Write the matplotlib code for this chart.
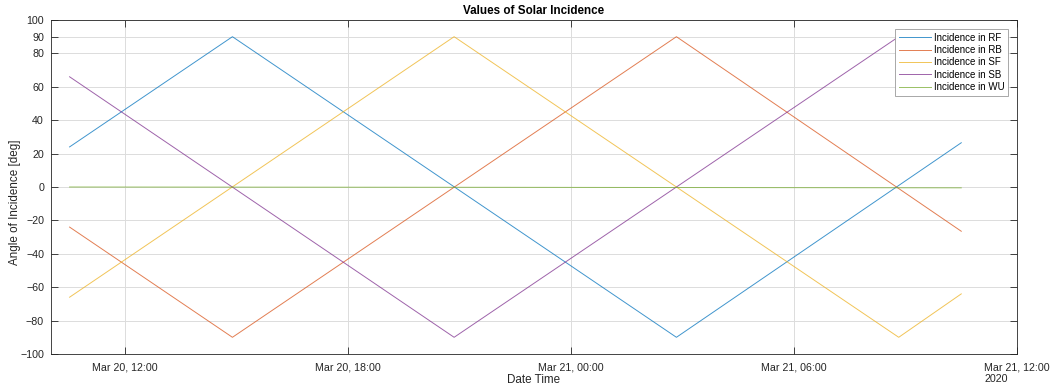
import matplotlib
matplotlib.use("Agg")
import matplotlib.pyplot as plt
from datetime import datetime

plt.rcParams['font.family'] = ['Liberation Sans', 'DejaVu Sans']

# Vertex data (time, value)
rf_t = ["2020-03-20 10:30", "2020-03-20 14:53", "2020-03-21 02:50", "2020-03-21 10:30"]
rf_v = [24, 90, -90, 26.5]
rb_t = ["2020-03-20 10:30", "2020-03-20 14:53", "2020-03-21 02:50", "2020-03-21 10:30"]
rb_v = [-24, -90, 90, -26.5]
sf_t = ["2020-03-20 10:30", "2020-03-20 20:51", "2020-03-21 08:49", "2020-03-21 10:30"]
sf_v = [-66, 90, -90, -64]
sb_t = ["2020-03-20 10:30", "2020-03-20 20:51", "2020-03-21 08:49", "2020-03-21 10:30"]
sb_v = [66, -90, 90, 64]
wu_t = ["2020-03-20 10:30", "2020-03-20 22:30", "2020-03-21 10:30"]
wu_v = [0.0, -0.2, -0.5]

series_names = ["Incidence in RF", "Incidence in RB", "Incidence in SF",
                "Incidence in SB", "Incidence in WU"]
colors = ["#0072BD", "#D95319", "#EDB120", "#7E2F8E", "#77AC30"]

yticks = [-100, -80, -60, -40, -20, 0, 20, 40, 60, 80, 90, 100]
xtick_times = ["2020-03-20 12:00", "2020-03-20 18:00", "2020-03-21 00:00",
               "2020-03-21 06:00", "2020-03-21 12:00"]
xtick_labels = ["Mar 20, 12:00", "Mar 20, 18:00", "Mar 21, 00:00",
                "Mar 21, 06:00", "Mar 21, 12:00\n2020"]

def p(ts):
    return [datetime.strptime(s, "%Y-%m-%d %H:%M") for s in ts]

fig = plt.figure(figsize=(10.54, 3.89), dpi=100)
ax = fig.add_axes([51/1054, 35/389, 966/1054, 334/389])

data = [(rf_t, rf_v), (rb_t, rb_v), (sf_t, sf_v), (sb_t, sb_v), (wu_t, wu_v)]
for (t, v), name, c in zip(data, series_names, colors):
    ax.plot(p(t), v, color=c, lw=0.7, alpha=0.75, label=name)

ax.set_xlim(datetime(2020, 3, 20, 10, 0), datetime(2020, 3, 21, 12, 0))
ax.set_ylim(-100, 100)
ax.set_yticks(yticks)
ax.set_xticks(p(xtick_times))
ax.set_xticklabels(xtick_labels)
for lbl in ax.get_xticklabels():
    lbl.set_multialignment('left')
    lbl.set_verticalalignment('top')

ax.grid(True, color='#dcdcdc', lw=0.7)
ax.set_axisbelow(True)
for s in ax.spines.values():
    s.set_color('#262626')
    s.set_linewidth(0.6)
ax.tick_params(direction='in', length=5, width=0.6, color='#262626',
               labelsize=7.7, labelcolor='#262626', top=True, right=True)
ax.tick_params(axis='x', pad=6)
ax.tick_params(axis='y', pad=5)

ax.set_title("Values of Solar Incidence", fontsize=8.4, fontweight='bold', pad=4)
fig.text(534/1054, 9/389, "Date Time", fontsize=8.4, color='#262626',
         ha='center', va='center')
fig.text(15/1054, 187/389, "Angle of Incidence [deg]", fontsize=8.4,
         color='#262626', ha='center', va='center', rotation=90)

leg = ax.legend(loc='upper right', fontsize=7, frameon=True, fancybox=False,
                borderaxespad=0.9, handlelength=3.3, labelspacing=0.24,
                borderpad=0.4, handletextpad=0.3)
leg.get_frame().set_edgecolor('#9a9a9a')
leg.get_frame().set_linewidth(0.6)
leg.get_frame().set_alpha(1)

fig.savefig("out.png", dpi=100)
